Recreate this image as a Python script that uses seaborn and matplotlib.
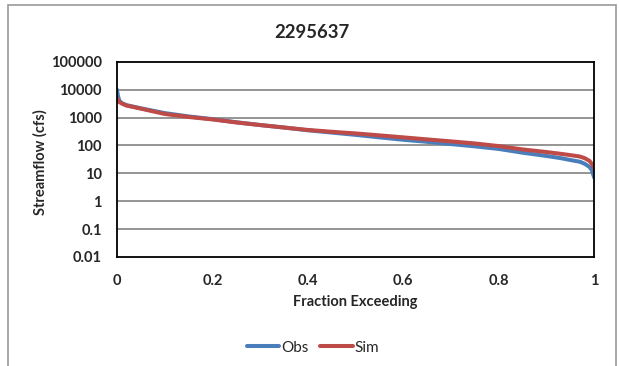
import numpy as np
import pandas as pd
import matplotlib
matplotlib.use("Agg")
import matplotlib.pyplot as plt
from matplotlib.patches import Rectangle
from matplotlib.ticker import FixedLocator, FixedFormatter
import seaborn as sns

# Flow duration curve
fraction = [0, 0.002, 0.005, 0.01, 0.02, 0.05, 0.1, 0.15, 0.2, 0.25, 0.3,
            0.35, 0.4, 0.45, 0.5, 0.55, 0.6, 0.65, 0.7, 0.75, 0.8, 0.85,
            0.9, 0.93, 0.95, 0.97, 0.98, 0.99, 0.995, 1.0]
obs = [10000, 6000, 4000, 3300, 2800, 2150, 1450, 1100, 880, 680, 540,
       440, 350, 290, 240, 195, 160, 135, 112, 93, 75, 55,
       42, 35, 30, 26, 22, 17, 13, 7]
sim = [5000, 4200, 3600, 3200, 2700, 2100, 1350, 1050, 860, 670, 540,
       440, 360, 310, 270, 230, 195, 165, 140, 118, 95, 72,
       58, 50, 45, 40, 35, 28, 22, 15]

y_ticks = [0.01, 0.1, 1, 10, 100, 1000, 10000, 100000]
y_labels = ["0.01", "0.1", "1", "10", "100", "1000", "10000", "100000"]
x_ticks = [0, 0.2, 0.4, 0.6, 0.8, 1.0]
x_labels = ["0", "0.2", "0.4", "0.6", "0.8", "1"]

df = pd.DataFrame({
    "Fraction Exceeding": fraction * 2,
    "Streamflow (cfs)": obs + sim,
    "series": ["Obs"] * len(obs) + ["Sim"] * len(sim),
})

sns.set_style("white")
plt.rcParams["font.family"] = ["Lato", "DejaVu Sans"]

fig = plt.figure(figsize=(6.19, 3.66), dpi=100)
ax = fig.add_axes([0.189, 0.298, 0.771, 0.533])

sns.lineplot(data=df, x="Fraction Exceeding", y="Streamflow (cfs)",
             hue="series", palette={"Obs": "#4a7ebb", "Sim": "#be4b48"},
             linewidth=2.9, ax=ax, legend=False, sort=False,
             solid_capstyle="round")

ax.set_yscale("log")
ax.set_ylim(0.01, 100000)
ax.set_xlim(0, 1)
ax.yaxis.set_major_locator(FixedLocator(y_ticks))
ax.yaxis.set_major_formatter(FixedFormatter(y_labels))
ax.yaxis.set_minor_locator(FixedLocator([]))
ax.xaxis.set_major_locator(FixedLocator(x_ticks))
ax.xaxis.set_major_formatter(FixedFormatter(x_labels))

for y in y_ticks[1:-1]:
    ax.axhline(y, color="#8c8c8c", linewidth=1.3, zorder=0)

for s in ax.spines.values():
    s.set_visible(True)
    s.set_color("black")
    s.set_linewidth(1.3)

ax.tick_params(axis="both", direction="out", length=4, width=1.3,
               color="black", labelsize=10.5)
ax.tick_params(axis="y", pad=7)
ax.tick_params(axis="x", pad=8)
for lbl in ax.get_xticklabels() + ax.get_yticklabels():
    lbl.set_fontweight("bold")

ax.set_xlabel("Fraction Exceeding", fontsize=10.5, fontweight="bold",
              va="center")
ax.xaxis.set_label_coords(0.5, -0.232)
ax.set_ylabel("Streamflow (cfs)", fontsize=10.5, fontweight="bold",
              va="center")
ax.yaxis.set_label_coords(-0.161, 0.487)
fig.text(312 / 619, 1 - 32.5 / 366, "2295637", ha="center", va="center",
         fontsize=13.3, fontweight="bold")

handles = [plt.Line2D([], [], color="#4a7ebb", linewidth=2.9),
           plt.Line2D([], [], color="#be4b48", linewidth=2.9)]
fig.legend(handles, ["Obs", "Sim"], loc="center",
           bbox_to_anchor=(313 / 619, 1 - 347.5 / 366),
           ncol=2, frameon=False, fontsize=11, handlelength=2.15,
           handletextpad=0.15, columnspacing=0.7)

fig.patches.append(Rectangle((8 / 619, -0.1), 608 / 619, 1.1 - 5 / 366,
                             transform=fig.transFigure, fill=False,
                             edgecolor="#9a9a9a", linewidth=1.2))

fig.savefig("out.png", dpi=100)
